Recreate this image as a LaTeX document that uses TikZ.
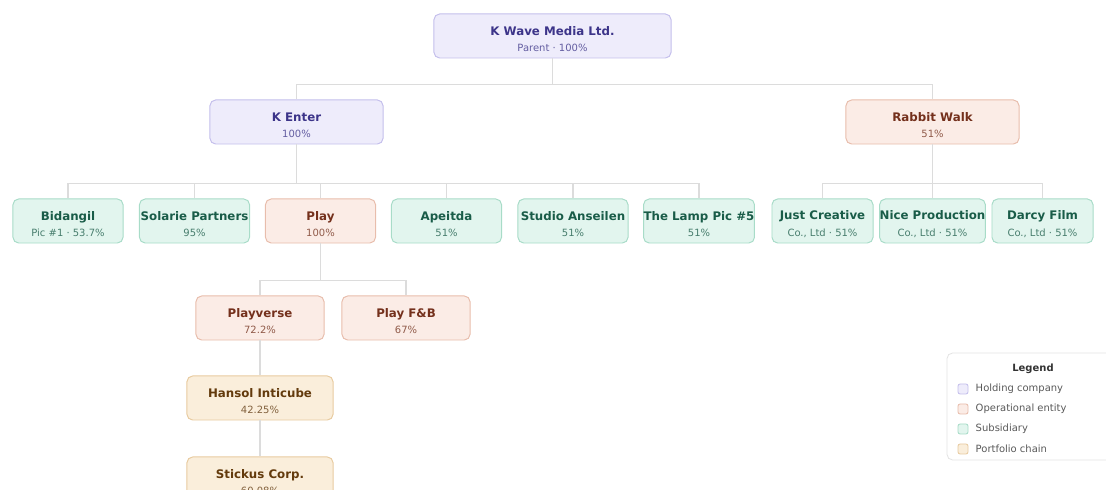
\documentclass[tikz,border=0pt]{standalone}
\usepackage{fontspec}
\setmainfont{DejaVu Sans}
\usepackage{xcolor}
\definecolor{holdfill}{HTML}{EEECFB}
\definecolor{holdline}{HTML}{C4BFEC}
\definecolor{holdtext}{HTML}{3C3489}
\definecolor{opfill}{HTML}{FBECE6}
\definecolor{opline}{HTML}{E8BDAC}
\definecolor{optext}{HTML}{74301C}
\definecolor{subfill}{HTML}{E2F5EE}
\definecolor{subline}{HTML}{A8DCC8}
\definecolor{subtext}{HTML}{195C48}
\definecolor{portfill}{HTML}{FAEEDB}
\definecolor{portline}{HTML}{E8CBA0}
\definecolor{porttext}{HTML}{633A0C}
\definecolor{linkgrey}{HTML}{DCDCDC}
\definecolor{legendline}{HTML}{E4E4E4}
\usetikzlibrary{calc}
\newcommand{\namesize}{\fontsize{8.4}{11.8}\selectfont}
\newcommand{\subsize}{\fontsize{7.1}{11.8}\selectfont}
\newcommand{\ent}[2]{{\namesize\bfseries\rule{0pt}{10.5pt}#1}\\{\subsize\color{.!80!white}#2}}
\newcommand{\widthparent}{5.925cm}
\newcommand{\widthmid}{4.325cm}
\newcommand{\widthleaf}{2.75cm}
\newcommand{\widthnarrow}{2.525cm}
\newcommand{\widthplay}{3.2cm}
\newcommand{\widthchain}{3.65cm}
\tikzset{
    common/.style={draw, rectangle, rounded corners=4pt, line width=0.7pt, minimum height=1.1cm, inner xsep=0pt, align=center, font=\namesize},
    holding/.style={common, fill=holdfill, draw=holdline, text=holdtext},
    operational/.style={common, fill=opfill, draw=opline, text=optext},
    subsidiary/.style={common, fill=subfill, draw=subline, text=subtext},
    portfolio/.style={common, fill=portfill, draw=portline, text=porttext},
    link/.style={draw=linkgrey, line width=0.8pt},
    swatch/.style={draw, rectangle, rounded corners=1.5pt, line width=0.6pt, minimum size=0.25cm, inner sep=0pt},
    legendtext/.style={text=black!65, font=\fontsize{7.1}{8}\selectfont, inner sep=0pt, label distance=5pt}
}

\begin{document}
\begin{tikzpicture}[x=0.025cm, y=-0.025cm]
      \useasboundingbox (0,0) rectangle (1106,490);

      \path
          node[holding, minimum width=\widthparent] (kwave) at (552.5,36) {\ent{K Wave Media Ltd.}{Parent · 100\%}}
          node[holding, minimum width=\widthmid] (kenter) at (296.5,122) {\ent{K Enter}{100\%}}
          node[operational, minimum width=\widthmid] (rabbit) at (932.5,122) {\ent{Rabbit Walk}{51\%}};

      \path
          node[subsidiary, minimum width=\widthleaf] (bidangil) at (68,221) {\ent{Bidangil}{Pic \#1 · 53.7\%}}
          node[subsidiary, minimum width=\widthleaf] (solarie) at (194.5,221) {\ent{Solarie Partners}{95\%}}
          node[operational, minimum width=\widthleaf] (play) at (320.5,221) {\ent{Play}{100\%}}
          node[subsidiary, minimum width=\widthleaf] (apeitda) at (446.5,221) {\ent{Apeitda}{51\%}}
          node[subsidiary, minimum width=\widthleaf] (anseilen) at (573,221) {\ent{Studio Anseilen}{51\%}}
          node[subsidiary, minimum width=\widthleaf] (lamp) at (699,221) {\ent{The Lamp Pic \#5}{51\%}};

      \path
          node[subsidiary, minimum width=\widthnarrow] (justcreative) at (822.5,221) {\ent{Just Creative}{Co., Ltd · 51\%}}
          node[subsidiary, minimum width=\widthnarrow] (niceprod) at (932.5,221) {\ent{Nice Production}{Co., Ltd · 51\%}}
          node[subsidiary, minimum width=\widthnarrow] (darcy) at (1042.5,221) {\ent{Darcy Film}{Co., Ltd · 51\%}};

      \path
          node[operational, minimum width=\widthplay] (playverse) at (260,318) {\ent{Playverse}{72.2\%}}
          node[operational, minimum width=\widthplay] (playfb) at (406,318) {\ent{Play F\&B}{67\%}}
          node[portfolio, minimum width=\widthchain] (hansol) at (260,398) {\ent{Hansol Inticube}{42.25\%}}
          node[portfolio, minimum width=\widthchain] (stickus) at (260,479) {\ent{Stickus Corp.}{60.08\%}};

      \draw[link] (kwave.south) -- +(0,26) -| (kenter.north);
      \draw[link] (kwave.south) -- +(0,26) -| (rabbit.north);

      \draw[link] (kenter.south) -- +(0,39) -| (bidangil.north);
      \draw[link] (kenter.south) -- +(0,39) -| (solarie.north);
      \draw[link] (kenter.south) -- +(0,39) -| (play.north);
      \draw[link] (kenter.south) -- +(0,39) -| (apeitda.north);
      \draw[link] (kenter.south) -- +(0,39) -| (anseilen.north);
      \draw[link] (kenter.south) -- +(0,39) -| (lamp.north);

      \draw[link] (rabbit.south) -- +(0,39) -| (justcreative.north);
      \draw[link] (rabbit.south) -- (niceprod.north);
      \draw[link] (rabbit.south) -- +(0,39) -| (darcy.north);

      \draw[link] (play.south) -- +(0,37) -| (playverse.north);
      \draw[link] (play.south) -- +(0,37) -| (playfb.north);
      \draw[link] (playverse) -- (hansol);
      \draw[link] (hansol) -- (stickus);

      \path
          node[draw=legendline, fill=white, rounded corners=4pt, line width=0.6pt, minimum width=4.3cm, minimum height=2.675cm] (legend) at (1033,406.5) {}
          node[text=black!80, font=\fontsize{7.1}{8}\selectfont\bfseries] (legend-title) at (1033,369) {Legend}
          node[swatch, fill=holdfill, draw=holdline, label={[legendtext]right:Holding company}] (legend-holding) at (963,389) {}
          node[swatch, fill=opfill, draw=opline, label={[legendtext]right:Operational entity}] (legend-operational) at (963,409) {}
          node[swatch, fill=subfill, draw=subline, label={[legendtext]right:Subsidiary}] (legend-subsidiary) at (963,429) {}
          node[swatch, fill=portfill, draw=portline, label={[legendtext]right:Portfolio chain}] (legend-portfolio) at (963,449) {};
    \end{tikzpicture}
\end{document}
